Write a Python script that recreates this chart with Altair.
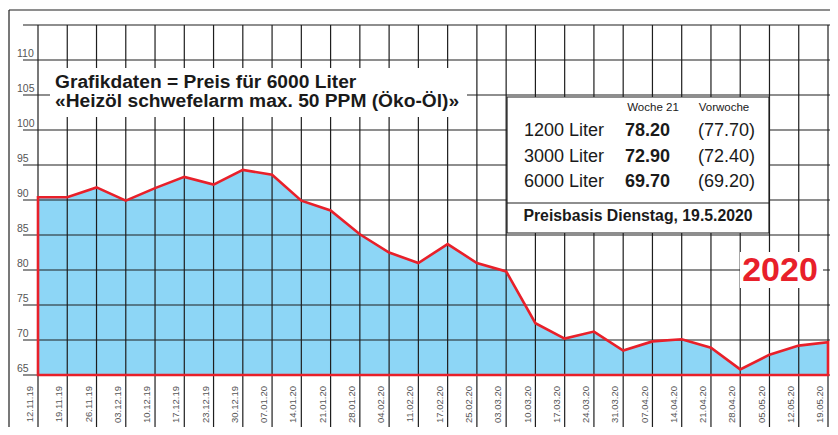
import altair as alt
import pandas as pd

dates = ["12.11.19", "19.11.19", "26.11.19", "03.12.19", "10.12.19", "17.12.19", "23.12.19",
         "30.12.19", "07.01.20", "14.01.20", "21.01.20", "28.01.20", "04.02.20", "11.02.20",
         "17.02.20", "25.02.20", "03.03.20", "10.03.20", "17.03.20", "24.03.20", "31.03.20",
         "07.04.20", "14.04.20", "21.04.20", "28.04.20", "05.05.20", "12.05.20", "19.05.20"]
prices = [90.4, 90.4, 91.8, 89.9, 91.7, 93.3, 92.2, 94.3, 93.6, 89.9, 88.5, 85.1, 82.5, 81.0,
          83.7, 81.0, 79.8, 72.4, 70.2, 71.2, 68.5, 69.8, 70.1, 68.9, 65.8, 67.9, 69.2, 69.7]
y_ticks = [65, 70, 75, 80, 85, 90, 95, 100, 105, 110]
grid_vals = [65, 70, 75, 80, 85, 90, 95, 100, 105, 110, 115]
title_lines = ["Grafikdaten = Preis für 6000 Liter", "«Heizöl schwefelarm max. 50 PPM (Öko-Öl)»"]
box_head = ["Woche 21", "Vorwoche"]
row_labels = ["1200 Liter", "3000 Liter", "6000 Liter"]
week_vals = ["78.20", "72.90", "69.70"]
prev_vals = ["(77.70)", "(72.40)", "(69.20)"]
basis_text = "Preisbasis Dienstag, 19.5.2020"
year_text = "2020"

W, H = 790, 350
FONT = "Liberation Sans, Arial, Helvetica, sans-serif"
GRID = "#1e1e1e"
RED = "#e8202a"
BLUE = "#8dd6f6"
TXT = "#1a1a1a"

df = pd.DataFrame({"i": list(range(len(dates))), "date": dates, "price": prices})
gdf = pd.DataFrame({"v": grid_vals})
tdf = pd.DataFrame({"v": y_ticks, "lab": [str(v) for v in y_ticks]})
one = pd.DataFrame({"k": [0]})

xs = alt.Scale(domain=[0, len(dates) - 1], nice=False, zero=False)
ys = alt.Scale(domain=[65, 115], nice=False, zero=False)
X = alt.X("i:Q", scale=xs, axis=None)

area_fill = alt.Chart(df).mark_area(color=BLUE, opacity=1).encode(
    x=X, y=alt.Y("price:Q", scale=ys, axis=None), y2=alt.datum(65))

hgrid = alt.Chart(gdf).mark_rule(color=GRID, strokeWidth=1.2).encode(
    y=alt.Y("v:Q", scale=ys, axis=None), x=alt.value(-15), x2=alt.value(800))

vgrid = alt.Chart(df).mark_rule(color=GRID, strokeWidth=1.2).encode(
    x=X, y=alt.value(0), y2=alt.value(405))

frame_left = alt.Chart(one).mark_rule(color=GRID, strokeWidth=1.2).encode(
    x=alt.value(-29), y=alt.value(-15), y2=alt.value(410))
frame_top = alt.Chart(one).mark_rule(color=GRID, strokeWidth=1.2).encode(
    x=alt.value(-29), x2=alt.value(800), y=alt.value(-15))

title_bg = alt.Chart(one).mark_rect(color="white").encode(
    x=alt.value(12), x2=alt.value(429), y=alt.value(43), y2=alt.value(92))
info_box = alt.Chart(one).mark_rect(fill="white", stroke=GRID, strokeWidth=1.2).encode(
    x=alt.value(469), x2=alt.value(731), y=alt.value(72), y2=alt.value(208))
info_div = alt.Chart(one).mark_rule(color=GRID, strokeWidth=1.2).encode(
    x=alt.value(469), x2=alt.value(731), y=alt.value(178))
year_bg = alt.Chart(one).mark_rect(color="white").encode(
    x=alt.value(702), x2=alt.value(785), y=alt.value(227), y2=alt.value(263))

area_line = alt.Chart(df).mark_area(fillOpacity=0, stroke=RED, strokeWidth=2.6,
                                     strokeJoin="miter").encode(
    x=X, y=alt.Y("price:Q", scale=ys, axis=None), y2=alt.datum(65))

ylabels = alt.Chart(tdf).mark_text(align="left", baseline="bottom", dy=-1, fontSize=10.5,
                                   font=FONT, color="#555555").encode(
    y=alt.Y("v:Q", scale=ys, axis=None), x=alt.value(-21), text="lab:N")

xlabels = alt.Chart(df).transform_calculate(xi="datum.i - 0.27").mark_text(
    angle=270, align="right", baseline="middle", fontSize=9.5, font=FONT, color="#555555").encode(
    x=alt.X("xi:Q", scale=xs, axis=None), y=alt.value(361), text="date:N")

layers = [area_fill, hgrid, vgrid, frame_left, frame_top, title_bg, info_box, info_div,
          year_bg, area_line, ylabels, xlabels]

for k, line in enumerate(title_lines):
    layers.append(alt.Chart(one).mark_text(align="left", baseline="middle", fontSize=19.2,
                                           fontWeight="bold", font=FONT, color=TXT,
                                           text=line).encode(
        x=alt.value(17), y=alt.value(57 + 19 * k)))

for txt, cx in zip(box_head, [615, 686]):
    layers.append(alt.Chart(one).mark_text(align="center", baseline="middle", fontSize=11.5,
                                           font=FONT, color=TXT, text=txt).encode(
        x=alt.value(cx), y=alt.value(83)))

for k in range(len(row_labels)):
    yy = 106 + 25.5 * k
    layers.append(alt.Chart(one).mark_text(align="left", baseline="middle", fontSize=18,
                                           font=FONT, color=TXT,
                                           text=row_labels[k]).encode(
        x=alt.value(486), y=alt.value(yy)))
    layers.append(alt.Chart(one).mark_text(align="left", baseline="middle", fontSize=18,
                                           fontWeight="bold", font=FONT, color=TXT,
                                           text=week_vals[k]).encode(
        x=alt.value(587), y=alt.value(yy)))
    layers.append(alt.Chart(one).mark_text(align="left", baseline="middle", fontSize=18,
                                           font=FONT, color=TXT,
                                           text=prev_vals[k]).encode(
        x=alt.value(660), y=alt.value(yy)))

layers.append(alt.Chart(one).mark_text(align="center", baseline="middle", fontSize=15.8,
                                       fontWeight="bold", font=FONT, color=TXT,
                                       text=basis_text).encode(
    x=alt.value(600), y=alt.value(191)))

layers.append(alt.Chart(one).mark_text(align="center", baseline="middle", fontSize=34,
                                       fontWeight="bold", font=FONT, color=RED,
                                       text=year_text).encode(
    x=alt.value(742), y=alt.value(246)))

chart = alt.layer(*layers).properties(
    width=W, height=H,
    autosize=alt.AutoSizeParams(type="none"),
    padding={"left": 30, "top": 17, "right": 2, "bottom": 52},
    background="white",
).configure_view(stroke=None)

chart.save("out.html", embed_options={"renderer": "svg", "actions": False})
